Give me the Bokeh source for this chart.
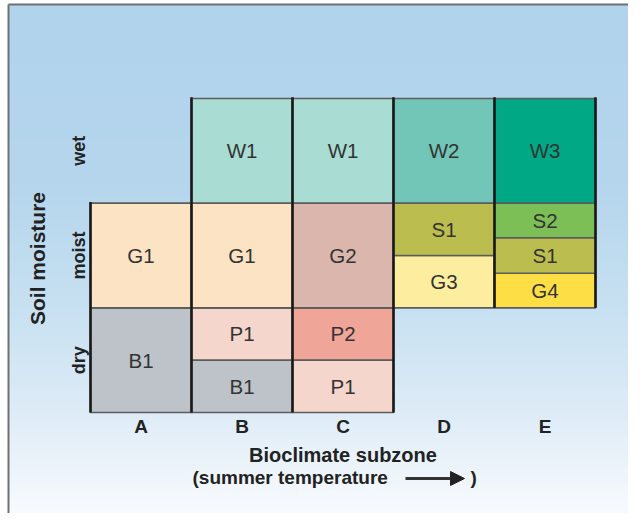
import numpy as np
from bokeh.plotting import figure
from bokeh.models import ColumnDataSource, Range1d, Arrow, NormalHead
from bokeh.core.properties import value
from bokeh.embed import file_html
from bokeh.resources import INLINE

# ---------------- data ----------------
subzones = ["A", "B", "C", "D", "E"]
moisture_classes = ["dry", "moist", "wet"]

cell_zone = ["A", "A", "B", "B", "B", "B", "C", "C", "C", "C", "D", "D", "D", "E", "E", "E", "E"]
cell_label = ["B1", "G1", "B1", "P1", "G1", "W1", "P1", "P2", "G2", "W1", "G3", "S1", "W2", "G4", "S1", "S2", "W3"]
cell_bottom = [0, 1, 0, 0.5, 1, 2, 0, 0.5, 1, 2, 1, 1.5, 2, 1, 1.33, 1.67, 2]
cell_top = [1, 2, 0.5, 1, 2, 3, 0.5, 1, 2, 3, 1.5, 2, 3, 1.33, 1.67, 2, 3]

x_title = "Bioclimate subzone"
x_subtitle = "(summer temperature"
y_title = "Soil moisture"

# ---------------- styles ----------------
palette = {
    "W1": "#a9ddd4", "W2": "#72c6b8", "W3": "#00a886",
    "G1": "#fbe3c3", "G2": "#dbb6ad", "G3": "#fdee9f", "G4": "#fddf45",
    "B1": "#bec3c9", "P1": "#f5d6cc", "P2": "#efa597",
    "S1": "#bbbe4e", "S2": "#7dbf57",
}
FONT = value("Liberation Sans")

W, H = 628, 513
# pixel scale of the grid (px per data unit) and position of grid origin in the canvas
SX, SY = 101.0, 104.67
OX, OY = 90.0, 101.0          # canvas px of x=0 (from left) and y=0 (from bottom)
x0 = -OX / SX
y0 = -OY / SY
x1 = x0 + W / SX
y1 = y0 + H / SY

def px(ix):   # page-image x pixel -> data
    return x0 + (ix - 8) / SX

def py(iy):   # page-image y pixel -> data
    return y0 + (H - (iy - 8)) / SY

p = figure(width=W, height=H, output_backend="svg", toolbar_location=None,
           x_range=Range1d(x0, x1), y_range=Range1d(y0, y1), min_border=0)
p.axis.visible = False
p.grid.visible = False
p.outline_line_color = None
p.background_fill_color = "white"
p.border_fill_color = "white"

# ---- background gradient (top light blue -> bottom near white) ----
stops_y = np.array([0.0, 0.35, 0.6, 0.8, 1.0])
stops_c = np.array([[177, 211, 236], [181, 214, 237], [200, 225, 242], [222, 236, 247], [248, 251, 254]])
n = 256
t = np.linspace(1.0, 0.0, n)  # row 0 is bottom of image
rgb = np.stack([np.interp(t, stops_y, stops_c[:, k]) for k in range(3)], axis=1).astype(np.uint32)
img = (255 << 24) | (rgb[:, 2] << 16) | (rgb[:, 1] << 8) | rgb[:, 0]
img = img.reshape(n, 1).astype(np.uint32)
bx, by_top = px(16), py(12)
p.image_rgba(image=[img], x=bx, y=y0, dw=x1 - bx + 0.1, dh=by_top - y0)
p.segment(x0=[bx, bx], y0=[by_top, by_top], x1=[bx, x1 + 1], y1=[y0 - 1, by_top],
          line_color="#707070", line_width=2)

# ---- cells ----
left = [subzones.index(z) for z in cell_zone]
src = ColumnDataSource(dict(
    left=left, right=[l + 1 for l in left], bottom=cell_bottom, top=cell_top,
    label=cell_label, color=[palette[c] for c in cell_label],
    xc=[l + 0.5 for l in left], yc=[(b + t_) / 2 for b, t_ in zip(cell_bottom, cell_top)],
))
p.quad(left="left", right="right", bottom="bottom", top="top", source=src,
       fill_color="color", line_color="#5c5c5c", line_width=1.6)

# ---- vertical zone boundaries (derived from the cells) ----
vx, vlo, vhi = [], [], []
for b in range(len(subzones) + 1):
    cols = [c for c in (b - 1, b) if 0 <= c < len(subzones)]
    bots = [cb for l, cb in zip(left, cell_bottom) if l in cols]
    tops = [ct for l, ct in zip(left, cell_top) if l in cols]
    vx.append(b); vlo.append(min(bots)); vhi.append(max(tops) + 0.012)
p.segment(x0=vx, y0=vlo, x1=vx, y1=vhi, line_color="#1a1a1a", line_width=2.6)

# ---- cell labels ----
p.text(x="xc", y="yc", text="label", source=src, text_font=FONT, text_font_size="20.5px",
       text_color="#333333", text_align="center", text_baseline="middle")

# ---- subzone letters ----
p.text(x=[i + 0.5 for i in range(len(subzones))], y=[0] * len(subzones), text=subzones,
       y_offset=14, text_font=FONT, text_font_size="19px", text_font_style="bold",
       text_color="#222222", text_align="center", text_baseline="middle")

# ---- moisture class labels ----
p.text(x=[0] * 3, y=[i + 0.5 for i in range(3)], text=moisture_classes, angle=np.pi / 2,
       x_offset=-12, text_font=FONT, text_font_size="18px", text_font_style="bold",
       text_color="#222222", text_align="center", text_baseline="middle")

# ---- axis titles ----
p.text(x=[0], y=[1.5], text=[y_title], angle=np.pi / 2, x_offset=-53, y_offset=3,
       text_font=FONT, text_font_size="21px", text_font_style="bold",
       text_color="#222222", text_align="center", text_baseline="middle")
p.text(x=[len(subzones) / 2], y=[0], text=[x_title], y_offset=42,
       text_font=FONT, text_font_size="20px", text_font_style="bold",
       text_color="#222222", text_align="center", text_baseline="middle")
p.text(x=[px(200)], y=[py(485)], text=[x_subtitle],
       text_font=FONT, text_font_size="19px", text_font_style="bold",
       text_color="#222222", text_align="left", text_baseline="middle")
p.text(x=[px(478)], y=[py(485)], text=[")"],
       text_font=FONT, text_font_size="19px", text_font_style="bold",
       text_color="#222222", text_align="left", text_baseline="middle")
p.add_layout(Arrow(x_start=px(413), y_start=py(486), x_end=px(472), y_end=py(486),
                   line_color="#333333", line_width=3,
                   end=NormalHead(size=14, fill_color="#222222", line_color="#222222")))

open("out.html", "w").write(file_html(p, INLINE))
